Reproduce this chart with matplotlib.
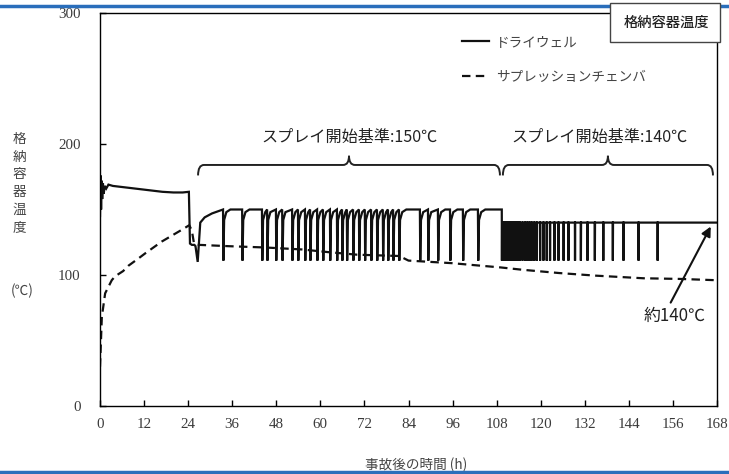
import matplotlib
matplotlib.use("Agg")
import matplotlib.pyplot as plt
from matplotlib.patches import PathPatch, Rectangle
from matplotlib.path import Path
from matplotlib.lines import Line2D

plt.rcParams['font.family'] = ['Noto Sans CJK JP', 'DejaVu Sans']

# ---------------- data ----------------
# Drywell temperature before the spray cycling phase (h, degC)
dw_t = [0, 0.15, 0.3, 0.45, 0.6, 0.8, 1.0, 1.3, 1.7, 2.3, 3.5, 5, 8, 11, 14, 17, 20,
        22.5, 24.2, 24.5, 25.0, 25.7, 26.0, 26.6, 27.3, 28.5, 30.5, 33.0]
dw_T = [145, 176, 150, 172, 158, 170, 162, 168, 166, 169, 168, 167.5, 166.5, 165.5, 164.5,
        163.5, 163, 163, 163.5, 124, 123, 123, 122, 110, 140, 144, 147, 149.5]

# Spray start times, criterion 150 degC (h)
spray150 = [33.5, 38.7, 44.1, 45.5, 47.9, 49.6, 52.3, 53.9, 55.8, 57.2, 59.1, 60.7, 62.6,
            64.5, 65.9, 67.2, 68.9, 70.5, 72.1, 73.8, 75.4, 77.0, 78.4, 79.8, 81.4, 87.1,
            89.3, 92.0, 95.3, 98.8, 102.9]
# Spray start times, criterion 140 degC (h)
spray140 = [109.4, 109.6, 109.8, 110.0, 110.2, 110.4, 110.6, 110.8, 111.0, 111.2, 111.4,
            111.6, 111.8, 112.0, 112.2, 112.4, 112.6, 112.8, 113.0, 113.2, 113.4, 113.6,
            113.8, 114.0, 114.3, 115.0, 115.7, 116.3, 116.9, 117.5, 118.2, 118.9, 119.8,
            120.7, 121.6, 122.5, 123.7, 124.8, 126.2, 127.5, 129.3, 130.9, 132.7, 134.7,
            137.0, 139.6, 142.5, 146.6, 151.8]
spray_low = 111      # temperature reached at the bottom of each spray dip
level150 = [150, 142, 148]   # criterion, recovered, near-criterion levels
level140 = 140
t_end = 168

# Suppression chamber temperature (h, degC)
sc_t = [0, 0.2, 0.5, 1.4, 2.3, 3.2, 4.1, 6.3, 7.7, 10.4, 12.3, 16.8, 22.2, 24.3, 25.0,
        25.6, 27, 35, 45, 55, 62, 70, 81.5, 84, 90, 96, 102, 109, 115, 125, 135, 148,
        158, 168]
sc_T = [30, 45, 68, 86, 91, 96, 99, 103, 107, 112.5, 116.5, 125.5, 134.4, 138, 134,
        124, 123, 122, 121, 119.5, 117.5, 115.5, 114.5, 111, 110, 109, 107.5, 105.8,
        104, 101.5, 99.5, 97.5, 97, 96]

x_ticks = list(range(0, 169, 12))
y_ticks = [0, 100, 200, 300]

# ---------------- build drywell trace ----------------
t_dw = list(dw_t)
T_dw = list(dw_T)
for i, ts in enumerate(spray150):
    nxt = spray150[i + 1] if i + 1 < len(spray150) else spray140[0]
    t_dw += [ts, ts + 0.1, ts + 0.3, ts + 0.9]
    T_dw += [level150[0], spray_low, level150[1], level150[2]]
    if nxt - ts > 3:
        t_dw.append(ts + 2.0)
        T_dw.append(level150[0])
for i, ts in enumerate(spray140):
    t_dw += [ts, ts + 0.04, ts + 0.09]
    T_dw += [level150[0] if i == 0 else level140, spray_low, level140]
t_dw.append(t_end)
T_dw.append(level140)

# ---------------- figure ----------------
W, H = 729, 474
fig = plt.figure(figsize=(W / 100, H / 100), dpi=100)
ax = fig.add_axes([100 / W, 1 - 406 / H, 617 / W, 393 / H])

ax.plot(t_dw, T_dw, color='#111111', lw=1.6, solid_joinstyle='miter', label='ドライウェル')
ax.plot(sc_t, sc_T, color='#111111', lw=1.6, linestyle=(0, (3.8, 2.4)),
        label='サプレッションチェンバ')

ax.set_xlim(0, 168)
ax.set_ylim(0, 300)
ax.set_xticks(x_ticks)
ax.set_yticks(y_ticks)
serif = {'family': 'Liberation Serif', 'size': 10.8}
ax.set_xticklabels([str(v) for v in x_ticks], fontdict=serif, color='#3a3a3a')
ax.set_yticklabels([str(v) for v in y_ticks], fontdict=serif, color='#3a3a3a')
ax.tick_params(axis='both', direction='in', length=4, width=1, color='black')
ax.tick_params(axis='y', pad=14)
ax.tick_params(axis='x', pad=9)
for s in ax.spines.values():
    s.set_linewidth(1.0)
    s.set_color('black')


def brace(x0, x1, y, he, ht, rx):
    xc = (x0 + x1) / 2
    verts = [(x0, y - he), (x0, y), (x0 + rx, y), (xc - rx, y), (xc, y), (xc, y + ht),
             (xc, y), (xc + rx, y), (x1 - rx, y), (x1, y), (x1, y - he)]
    codes = [Path.MOVETO, Path.CURVE3, Path.CURVE3, Path.LINETO, Path.CURVE3, Path.CURVE3,
             Path.CURVE3, Path.CURVE3, Path.LINETO, Path.CURVE3, Path.CURVE3]
    ax.add_patch(PathPatch(Path(verts, codes), fc='none', ec='#222222', lw=1.4))


brace(26.7, 108.9, 184, 8, 7, 1.6)
brace(109.7, 166.9, 184, 8, 7, 1.6)
ax.text(68.0, 205, 'スプレイ開始基準:150℃', ha='center', va='center', fontsize=11.6, color='#222222')
ax.text(136.0, 205, 'スプレイ開始基準:140℃', ha='center', va='center', fontsize=11.6, color='#222222')

ax.annotate('約140℃', xy=(166.3, 137), xytext=(156.5, 69), ha='center', va='center',
            fontsize=12.2, color='#222222',
            arrowprops=dict(arrowstyle='-|>', color='#111111', lw=1.5, mutation_scale=14,
                            shrinkA=1, shrinkB=0, relpos=(0.4, 1.0)))

leg = ax.legend(loc='upper left', bbox_to_anchor=(462 / W, 1 - 35 / H),
                bbox_transform=fig.transFigure, frameon=False, fontsize=9.8,
                handlelength=2.0, handletextpad=0.5, labelspacing=1.55, borderpad=0,
                borderaxespad=0)
for txt in leg.get_texts():
    txt.set_color('#444444')

# y label: vertical characters
ylab = '格納容器温度'
for i, ch in enumerate(ylab):
    fig.text(19 / W, 1 - (139 + i * 17.7) / H, ch, ha='center', va='center',
             fontsize=9.8, color='#444444')
fig.text(22 / W, 1 - 291 / H, '(℃)', ha='center', va='center', fontsize=9.8, color='#444444')

fig.text(416 / W, 1 - 465 / H, '事故後の時間 (h)', ha='center', va='center',
         fontsize=9.8, color='#444444')

# decorative blue rules
fig.add_artist(Line2D([0, 1], [1 - 6 / H] * 2, transform=fig.transFigure,
                      color='#2a6ebb', lw=2.5, zorder=5))
fig.add_artist(Line2D([0, 1], [1 - 472 / H] * 2, transform=fig.transFigure,
                      color='#2a6ebb', lw=2.5, zorder=5))

# title box
fig.add_artist(Rectangle((610 / W, 1 - 42 / H), 110 / W, 39 / H, transform=fig.transFigure,
                         fc='white', ec='#444444', lw=1.0, zorder=10))
fig.text(666 / W, 1 - 22.5 / H, '格納容器温度', ha='center', va='center', fontsize=10.3,
         fontweight='medium', color='#222222', zorder=11)

fig.savefig('out.png', dpi=100)
